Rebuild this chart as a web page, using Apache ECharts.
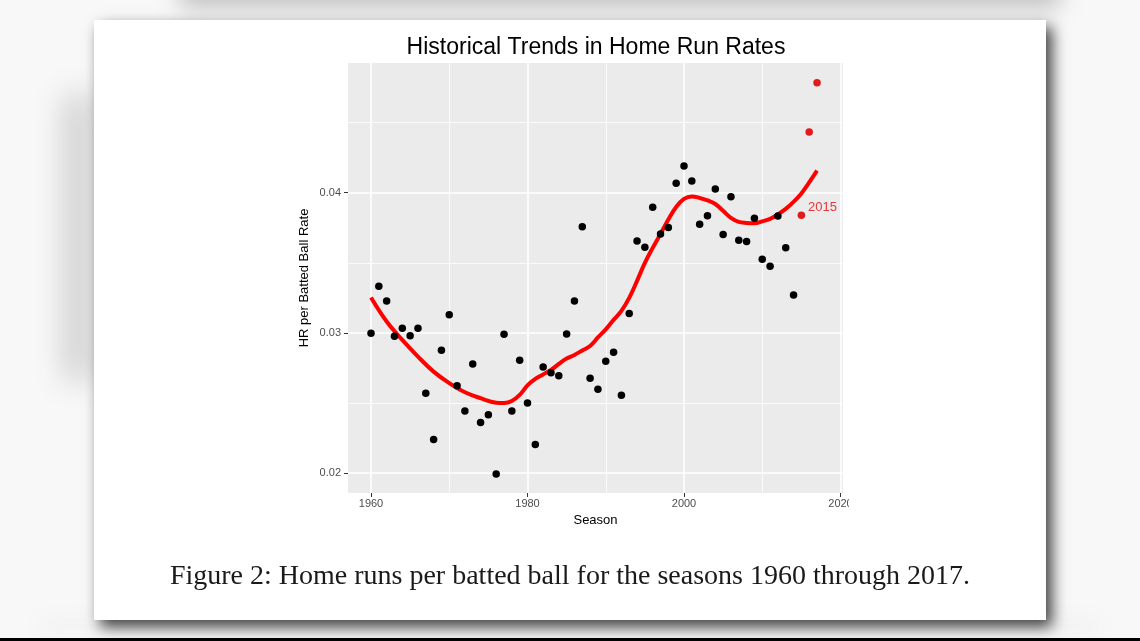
<!DOCTYPE html>
<html><head><meta charset="utf-8">
<script src="https://cdn.jsdelivr.net/npm/echarts@6/dist/echarts.min.js"></script>
<style>html,body{margin:0;padding:0;background:#f6f6f6}#c{width:1140px;height:641px}</style>
</head><body><div id="c"></div>
<script>
// ---- data ----
const seasons = [1960,1961,1962,1963,1964,1965,1966,1967,1968,1969,1970,1971,1972,1973,1974,1975,1976,1977,1978,1979,
  1980,1981,1982,1983,1984,1985,1986,1987,1988,1989,1990,1991,1992,1993,1994,1995,1996,1997,1998,1999,
  2000,2001,2002,2003,2004,2005,2006,2007,2008,2009,2010,2011,2012,2013,2014,2015,2016,2017];
const hrRate = [0.02998,0.03333,0.03228,0.02976,0.03034,0.02979,0.03034,0.0257,0.0224,0.02877,0.0313,0.02624,0.02444,0.02779,0.02361,0.02416,0.01995,0.02991,0.02444,0.02805,
  0.02501,0.02204,0.02758,0.02717,0.02694,0.02993,0.03228,0.03756,0.02677,0.02599,0.02798,0.02862,0.02556,0.03138,0.03656,0.03611,0.03896,0.03706,0.03751,0.04067,
  0.0419,0.04083,0.03775,0.03836,0.04026,0.03701,0.03971,0.03661,0.03651,0.03818,0.03525,0.03475,0.03834,0.03608,0.03271,0.03839,0.04433,0.04784];
const recentSeasons = [2015,2016,2017];
const labelSeason = 2015;
const smoothSeasons = [1960,1962,1964,1966,1968,1970,1972,1974,1976,1977,1978,1979,1980,1981,1982,1983,1984,1985,1986,1987,1988,1989,
  1990,1991,1992,1993,1994,1995,1996,1997,1998,1999,2000,2001,2002,2003,2004,2005,2006,2007,2008,2009,2010,2011,2012,2013,2014,2015,2016,2017];
const smoothRate = [0.03252,0.03081,0.0295,0.02831,0.02724,0.02642,0.02577,0.02535,0.02503,0.02501,0.02515,0.02558,0.02626,0.02672,0.02704,0.02736,0.02779,0.02818,0.02843,0.02875,0.02907,0.02968,
  0.03025,0.03093,0.03157,0.0325,0.03371,0.03499,0.03606,0.03706,0.03809,0.03898,0.03955,0.03973,0.03962,0.03944,0.03919,0.0387,0.0382,0.03791,0.03784,0.03782,0.03795,0.03813,0.03845,0.03884,0.03934,0.03994,0.04073,0.04157];
const xMajor = [1960,1980,2000,2020];
const xMinor = [1970,1990,2010];
const yMajor = [0.02,0.03,0.04];
const yMinor = [0.025,0.035,0.045];
const titleText = 'Historical Trends in Home Run Rates';
const xTitle = 'Season';
const yTitle = 'HR per Batted Ball Rate';
const captionText = 'Figure 2: Home runs per batted ball for the seasons 1960 through 2017.';

// ---- build ----
const blackPts = [], redPts = [];
seasons.forEach((s,i)=>{ (recentSeasons.includes(s)?redPts:blackPts).push([s,hrRate[i]]); });
const smoothPts = smoothSeasons.map((s,i)=>[s,smoothRate[i]]);
const SANS = "'Liberation Sans', Arial, sans-serif";
const X_MIN = 1957.06, X_MAX = 2020.32, Y_MIN = 0.01859, Y_MAX = 0.04924;
const OFF = 3000;
function blur(x,y,w,h,b,c){
  return {type:'rect', z:-30, silent:true, shape:{x:x-OFF,y:y,width:w,height:h},
          style:{fill:c, shadowBlur:b, shadowOffsetX:OFF, shadowOffsetY:0, shadowColor:c}};
}

const chart = echarts.init(document.getElementById('c'), null, {renderer:'canvas'});
chart.setOption({
  backgroundColor: '#f8f8f8',
  animation: false,
  textStyle: {fontFamily: SANS},
  graphic: [
    blur(66,95,24,285,30,'rgba(90,90,90,0.55)'),
    blur(180,-30,880,38,22,'rgba(100,100,100,0.6)'),
    blur(40,620,1060,14,20,'rgba(150,150,150,0.25)'),
    {type:'rect', z:-20, shape:{x:94,y:20,width:952,height:600}, style:{fill:'#ffffff', shadowBlur:14, shadowOffsetX:6, shadowOffsetY:7, shadowColor:'rgba(0,0,0,0.75)'}},
    {type:'text', z:10, x:596, y:47.5, style:{text:titleText, fontFamily:SANS, fontSize:23, fill:'#000', textAlign:'center', textVerticalAlign:'middle'}},
    {type:'text', z:10, x:570, y:577, style:{text:captionText, fontFamily:"'Liberation Serif', 'Times New Roman', serif", fontSize:28, fill:'#1a1a1a', textAlign:'center', textVerticalAlign:'middle'}},
    {type:'rect', z:100, shape:{x:849,y:497,width:30,height:16}, style:{fill:'#ffffff'}},
    {type:'rect', z:100, shape:{x:0,y:638,width:1140,height:3}, style:{fill:'#000'}}
  ],
  grid: {left:348, top:63, width:495, height:430, show:true, backgroundColor:'#ebebeb', borderWidth:0, containLabel:false, outerBoundsMode:'none'},
  xAxis: [
    {type:'value', min:X_MIN, max:X_MAX, gridIndex:0,
     axisLine:{show:false},
     axisTick:{show:true, customValues:xMajor, length:4, lineStyle:{color:'#333', width:1}},
     axisLabel:{show:true, customValues:xMajor, color:'#4d4d4d', fontSize:11, margin:5, fontFamily:SANS, formatter:v=>String(Math.round(v))},
     splitLine:{show:true, lineStyle:{color:'#ffffff', width:1.6}},
     name:xTitle, nameLocation:'middle', nameGap:20, nameTextStyle:{color:'#000', fontSize:13, fontFamily:SANS}},
    {type:'value', min:X_MIN, max:X_MAX, gridIndex:0, position:'bottom',
     axisLine:{show:false}, axisTick:{show:false, customValues:xMinor}, axisLabel:{show:false, customValues:xMinor},
     splitLine:{show:true, lineStyle:{color:'#ffffff', width:0.8}}}
  ],
  yAxis: [
    {type:'value', min:Y_MIN, max:Y_MAX, gridIndex:0,
     axisLine:{show:false},
     axisTick:{show:true, customValues:yMajor, length:4, lineStyle:{color:'#333', width:1}},
     axisLabel:{show:true, customValues:yMajor, color:'#4d4d4d', fontSize:11, margin:7, fontFamily:SANS, formatter:v=>String(+v.toFixed(3))},
     splitLine:{show:true, lineStyle:{color:'#ffffff', width:1.6}},
     name:yTitle, nameLocation:'middle', nameRotate:90, nameGap:37, nameTextStyle:{color:'#000', fontSize:13, fontFamily:SANS}},
    {type:'value', min:Y_MIN, max:Y_MAX, gridIndex:0, position:'left',
     axisLine:{show:false}, axisTick:{show:false, customValues:yMinor}, axisLabel:{show:false, customValues:yMinor},
     splitLine:{show:true, lineStyle:{color:'#ffffff', width:0.8}}}
  ],
  series: [
    {type:'line', xAxisIndex:0, yAxisIndex:0, data:smoothPts, smooth:0.4, showSymbol:false, z:3,
     lineStyle:{color:'#ff0000', width:4}},
    {type:'scatter', xAxisIndex:0, yAxisIndex:0, data:blackPts, symbolSize:7.5, z:4, itemStyle:{color:'#000', opacity:1}},
    {type:'scatter', xAxisIndex:0, yAxisIndex:0, data:redPts, symbolSize:7.5, z:4, itemStyle:{color:'#e31a1c', opacity:1},
     label:{show:true, formatter:p=>p.value[0]===labelSeason?String(labelSeason):'', position:'right', distance:3, offset:[0,-8], color:'#e5383c', fontSize:13, fontFamily:SANS}}
  ]
});
</script></body></html>
